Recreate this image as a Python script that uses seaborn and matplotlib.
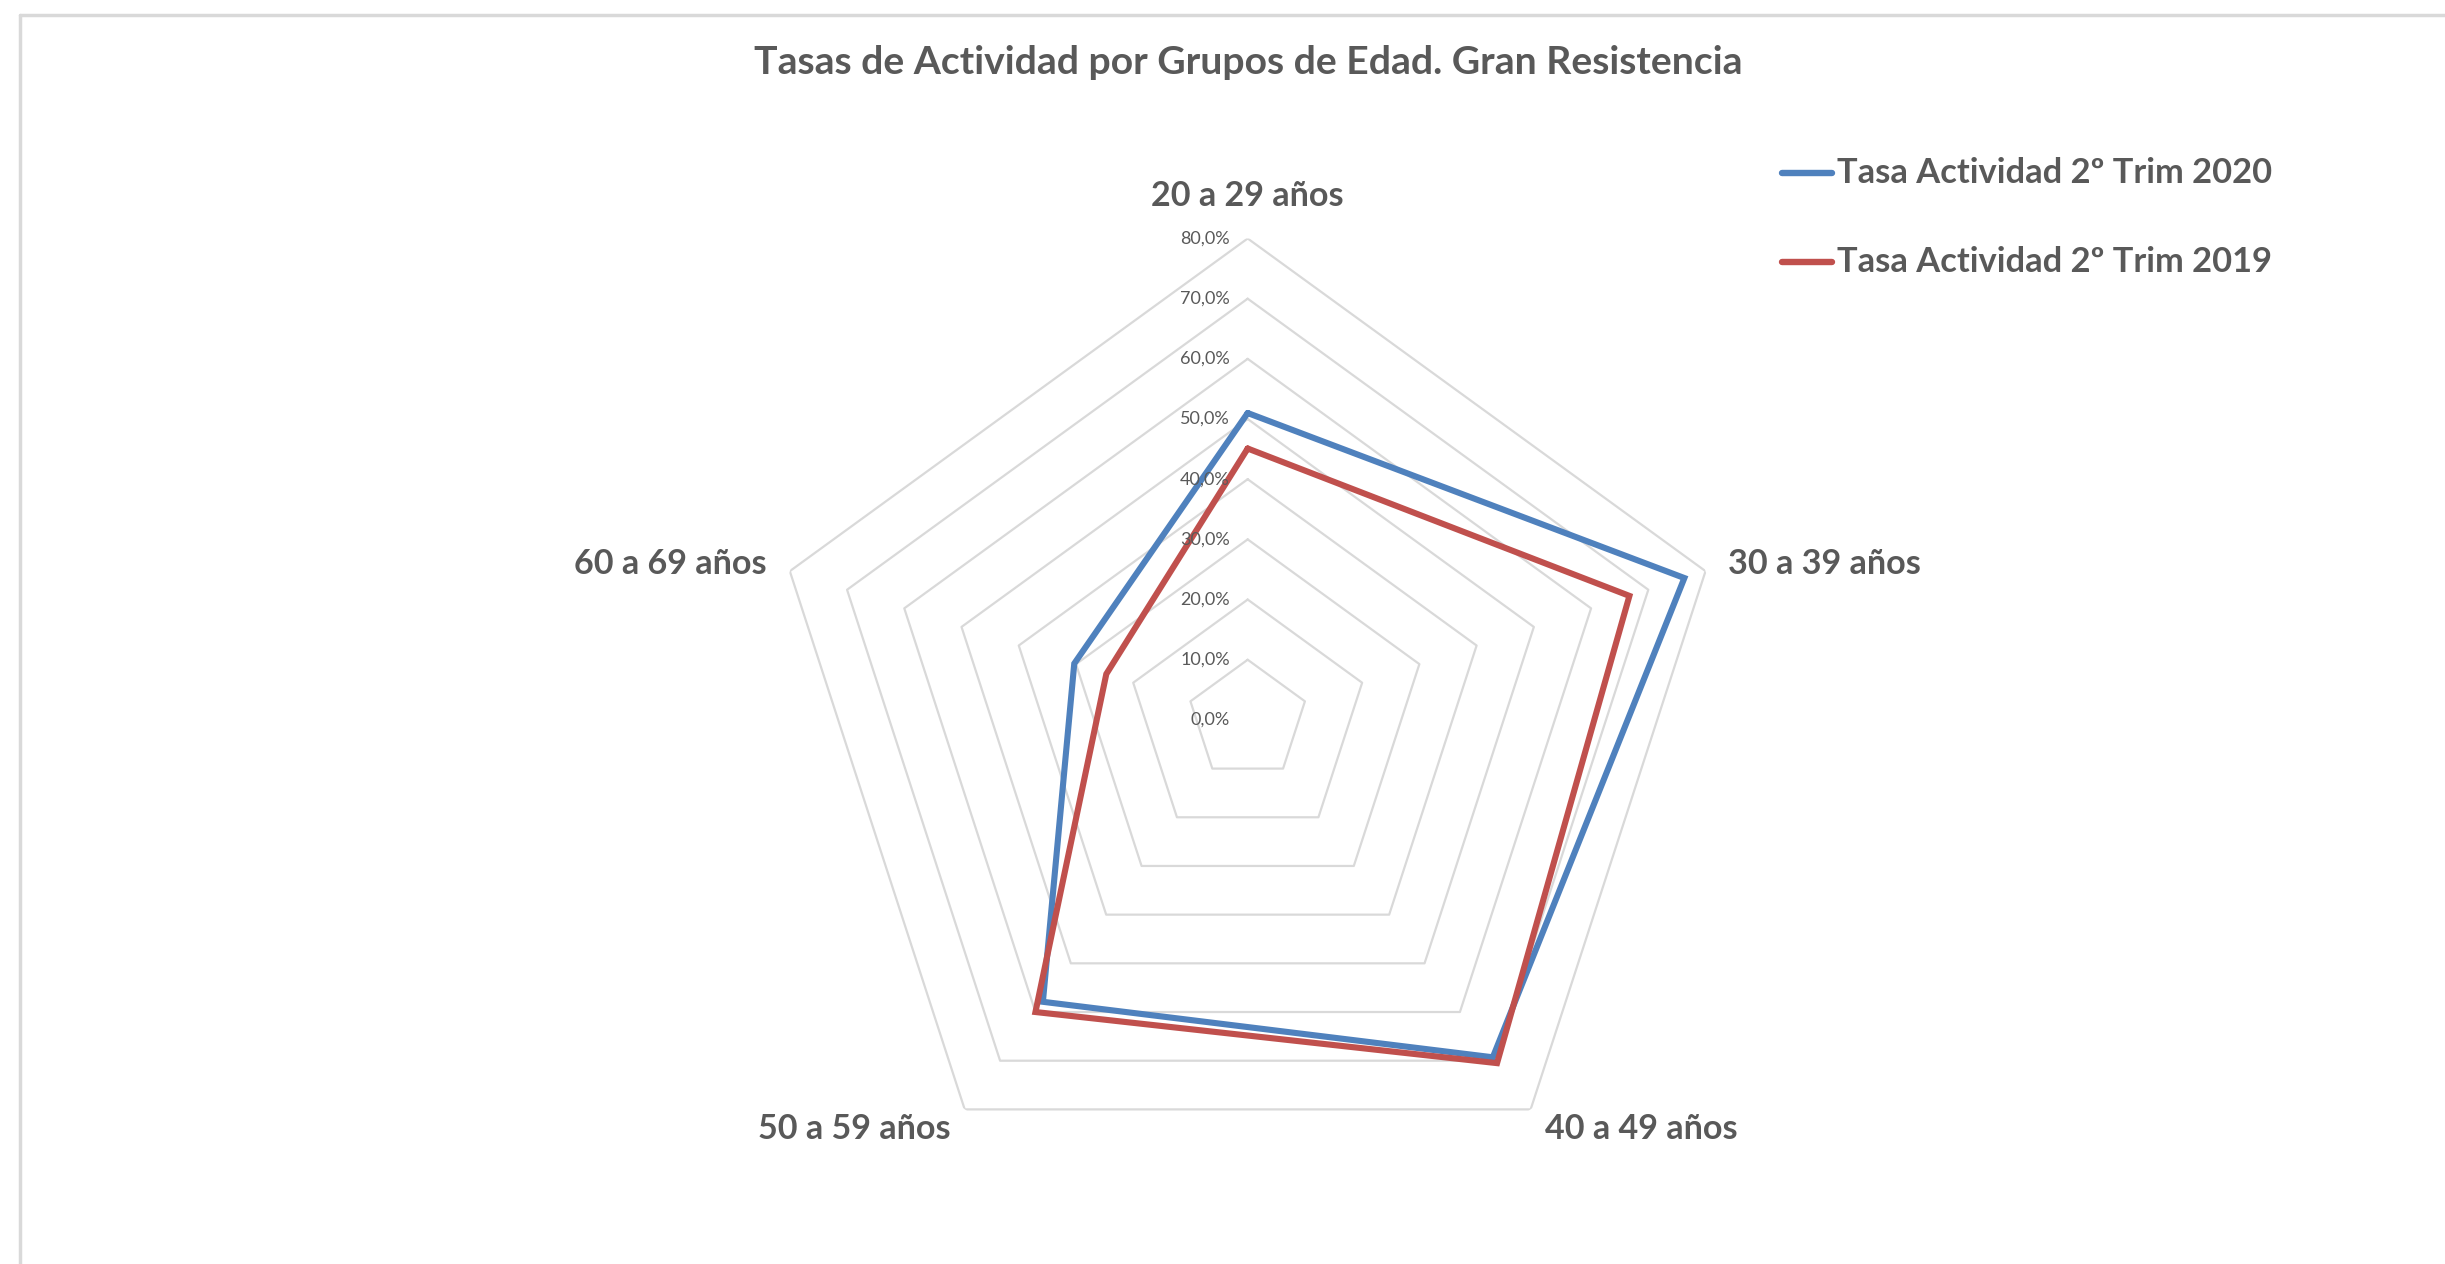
import numpy as np
import pandas as pd
import matplotlib
matplotlib.use("Agg")
import matplotlib.pyplot as plt
import matplotlib.transforms as mtransforms
import seaborn as sns

# Data
categorias = ['20 a 29 años', '30 a 39 años', '40 a 49 años', '50 a 59 años', '60 a 69 años']
tasa_2020 = [51.0, 76.3, 69.3, 57.9, 30.3]
tasa_2019 = [45.1, 66.7, 70.5, 60.0, 24.7]
series = ['Tasa Actividad 2º Trim 2020', 'Tasa Actividad 2º Trim 2019']
colores = ['#4f81bd', '#c0504d']
anillos = [10, 20, 30, 40, 50, 60, 70, 80]
ticks = [0, 10, 20, 30, 40, 50, 60, 70, 80]

sns.set_style("white")
plt.rcParams['font.family'] = ['Lato', 'DejaVu Sans']
gris = '#595959'

fig = plt.figure(figsize=(24.45, 12.64), dpi=100)

# frame line (top / left only, like the source)
fig.add_artist(plt.Line2D([19.5 / 2445, 1], [1 - 14.5 / 1264] * 2, color='#d9d9d9', lw=2.5))
fig.add_artist(plt.Line2D([19.5 / 2445] * 2, [0, 1 - 14.5 / 1264], color='#d9d9d9', lw=2.5))

ax = fig.add_axes([0.3134, 0.0495, 0.3938, 0.7619], projection='polar')
ax.set_theta_zero_location('N')
ax.set_theta_direction(-1)
ax.set_ylim(0, 80)
ax.grid(False)
ax.set_xticks([])
ax.set_yticks([])
ax.spines['polar'].set_visible(False)
ax.patch.set_alpha(0)

n = len(categorias)
angulos = np.linspace(0, 2 * np.pi, n, endpoint=False)
ang_cerrado = np.append(angulos, angulos[0])

# pentagon grid
for r in anillos:
    ax.plot(ang_cerrado, [r] * (n + 1), color='#d9d9d9', lw=1.6, zorder=1)

# series
filas = []
for nombre, valores in zip(series, [tasa_2020, tasa_2019]):
    vals = list(valores) + [valores[0]]
    for a, v in zip(ang_cerrado, vals):
        filas.append({'serie': nombre, 'ang': a, 'valor': v})
df = pd.DataFrame(filas)

sns.lineplot(data=df, x='ang', y='valor', hue='serie', units='serie', estimator=None,
             sort=False, palette=colores, hue_order=series, linewidth=4.4,
             ax=ax, legend=False, zorder=3)
for ln in ax.lines[-2:]:
    ln.set_solid_joinstyle('miter')

# radial tick labels, shifted left of the vertical axis
off = mtransforms.ScaledTranslation(-18 / 100, 0, fig.dpi_scale_trans)
for t in ticks:
    ax.text(0, t, f'{t:.1f}%'.replace('.', ','), transform=ax.transData + off,
            ha='right', va='center', fontsize=13, color=gris)

# category labels
alineado = ['center', 'left', 'left', 'right', 'right']
radio = [87, 84, 84, 84, 84]
for a, cat, ha, r in zip(angulos, categorias, alineado, radio):
    ax.text(a, r, cat, ha=ha, va='center', fontsize=24.6, fontweight='bold', color=gris)

# title
fig.text(0.5105, 1 - 62 / 1264, 'Tasas de Actividad por Grupos de Edad. Gran Resistencia',
         ha='center', va='center', fontsize=28.2, fontweight='bold', color=gris)

# legend
for i, (nombre, c) in enumerate(zip(series, colores)):
    y = 1 - (173 + 89 * i) / 1264
    fig.add_artist(plt.Line2D([1782 / 2445, 1832 / 2445], [y, y], color=c, lw=4.6,
                              solid_capstyle='round'))
    fig.text(1837 / 2445, y, nombre, ha='left', va='center', fontsize=24.8,
             fontweight='bold', color=gris)

fig.savefig('out.png', dpi=100)
